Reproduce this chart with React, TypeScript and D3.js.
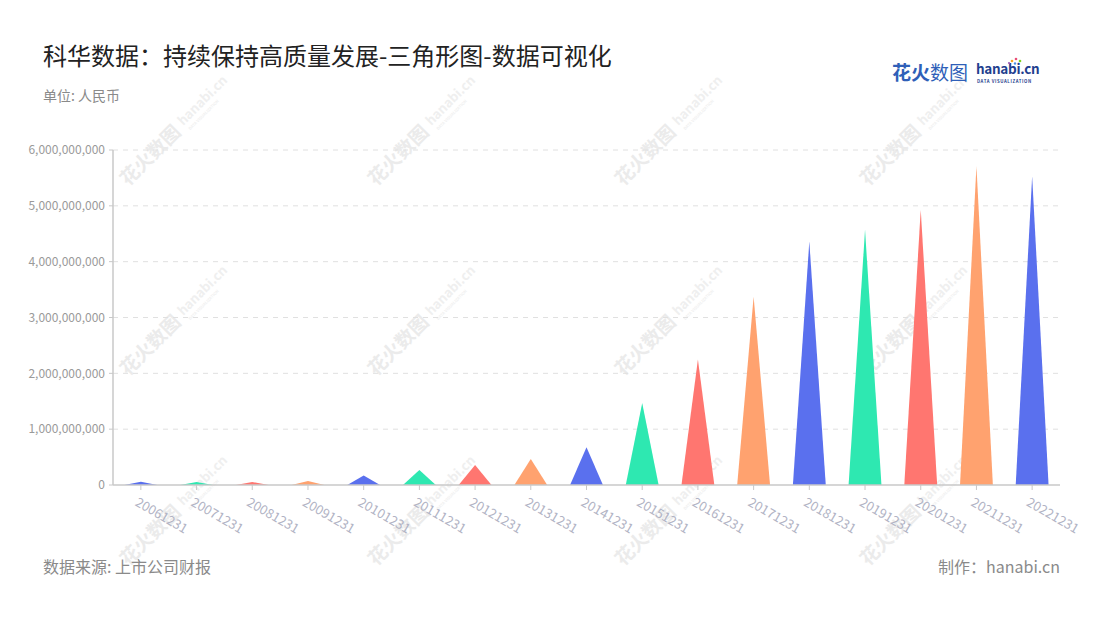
import React from "react";
import * as d3 from "d3";

const categories = ["20061231","20071231","20081231","20091231","20101231","20111231","20121231","20131231","20141231","20151231","20161231","20171231","20181231","20191231","20201231","20211231","20221231"];
const values = [60000000, 55000000, 55000000, 70000000, 170000000, 270000000, 360000000, 466000000, 675000000, 1470000000, 2250000000, 3370000000, 4360000000, 4570000000, 4930000000, 5710000000, 5530000000];
const yTicks = [0, 1000000000, 2000000000, 3000000000, 4000000000, 5000000000, 6000000000];
const palette = ["#5a70ee", "#2ee8b1", "#ff7670", "#ffa26f"];

const W = 1100, H = 620;
const left = 113, right = 1060, top = 150, bottom = 485;
const FONT = "'Noto Sans CJK SC', 'Noto Sans', sans-serif";

function Watermark({ x, y }: { x: number; y: number }) {
  return (
    <g transform={`translate(${x},${y}) rotate(-45)`} fill="#ebebeb" fontFamily={FONT}>
      <text x={-38} y={7} fontSize={19} fontWeight={700}>花火数图</text>
      <text x={44} y={3} fontSize={13} fontWeight={700} fill="#efefef">hanabi.cn</text>
      <text x={46} y={11} fontSize={4} fontWeight={700} fill="#f0f0f0">DATA VISUALIZATION</text>
    </g>
  );
}

export default function App() {
  const x = d3.scaleBand<string>().domain(categories).range([left, right]).padding(0);
  const y = d3.scaleLinear().domain([0, 6000000000]).range([bottom, top]);
  const fmt = d3.format(",");
  const half = x.bandwidth() * 0.295;

  const wmX = [150, 398, 645, 890];
  const wmY = [155, 345, 535];

  return (
    <svg width={W} height={H} style={{ position: "absolute", left: 0, top: 0, background: "#fff" }} fontFamily={FONT}>
      <rect width={W} height={H} fill="#fff" />
      {wmY.map((wy) => wmX.map((wx) => <Watermark key={`${wx}-${wy}`} x={wx} y={wy} />))}

      <text x={43} y={65} fontSize={24} fill="#222">科华数据：持续保持高质量发展-三角形图-数据可视化</text>
      <text x={43} y={101} fontSize={14} fill="#8a8a8a">单位: 人民币</text>

      {/* logo */}
      <g fontFamily={FONT}>
        <text x={892} y={80} fontSize={19} fontWeight={700} fill="#2f5fb8">花火</text>
        <text x={930} y={80} fontSize={19} fill="#2f5fb8">数图</text>
        <text x={976} y={74} fontSize={13.5} fontWeight={700} fill="#1f3f8f" letterSpacing={-0.3}>hanabi.cn</text>
        <text x={977} y={83} fontSize={4.3} fontWeight={700} fill="#1f3f8f" letterSpacing={0.6}>DATA VISUALIZATION</text>
        <circle cx={1012} cy={61} r={1.3} fill="#f5a623" />
        <circle cx={1016} cy={59} r={1.3} fill="#e94e77" />
        <circle cx={1020} cy={61} r={1.3} fill="#7ed321" />
        <circle cx={1015} cy={63.5} r={1.2} fill="#4a90e2" />
        <circle cx={1009} cy={63} r={1.1} fill="#9b59b6" />
      </g>

      {/* grid */}
      {yTicks.slice(1).map((t) => (
        <line key={t} x1={left} x2={right} y1={y(t)} y2={y(t)} stroke="#e0e0e0" strokeDasharray="5,5" />
      ))}

      {/* y axis */}
      <line x1={left} x2={left} y1={top} y2={bottom} stroke="#c8c8c8" strokeWidth={1.5} />
      {yTicks.map((t) => (
        <g key={t}>
          <line x1={left - 4} x2={left} y1={y(t)} y2={y(t)} stroke="#c8c8c8" />
          <text x={left - 8} y={y(t)} dy="0.35em" textAnchor="end" fontSize={12} fill="#9a9a9a">{fmt(t)}</text>
        </g>
      ))}

      {/* triangles */}
      {categories.map((c, i) => {
        const cx = (x(c) as number) + x.bandwidth() / 2;
        const y0 = y(0), y1 = y(values[i]);
        const path = d3.path();
        path.moveTo(cx - half, y0);
        path.lineTo(cx, y1);
        path.lineTo(cx + half, y0);
        path.closePath();
        return <path key={c} d={path.toString()} fill={palette[i % 4]} />;
      })}

      {/* x axis */}
      <line x1={left} x2={right} y1={bottom} y2={bottom} stroke="#c8c8c8" strokeWidth={1.5} />
      {categories.map((c) => {
        const cx = (x(c) as number) + x.bandwidth() / 2;
        return (
          <g key={c}>
            <line x1={cx} x2={cx} y1={bottom} y2={bottom + 5} stroke="#c8c8c8" />
            <text transform={`translate(${cx - 2},${bottom + 12}) rotate(30)`} dy="0.7em" fontSize={13} fill="#b1b3c4">{c}</text>
          </g>
        );
      })}

      <text x={43} y={573} fontSize={16} fill="#8a8a8a">数据来源: 上市公司财报</text>
      <text x={1060} y={573} fontSize={16} fill="#8a8a8a" textAnchor="end">制作：hanabi.cn</text>
    </svg>
  );
}
